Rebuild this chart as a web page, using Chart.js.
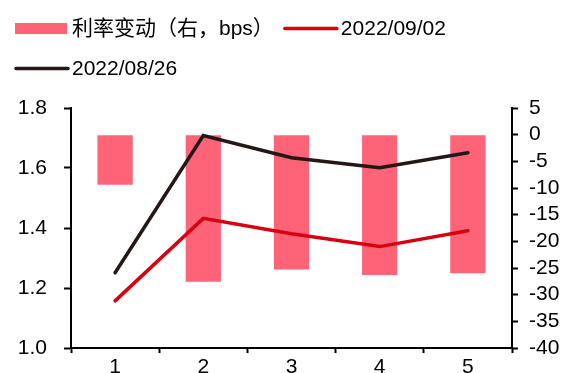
<!DOCTYPE html>
<html>
<head>
<meta charset="utf-8">
<script src="https://cdn.jsdelivr.net/npm/chart.js@4/dist/chart.umd.min.js"></script>
<style>
  html, body { margin: 0; padding: 0; background: #fff; }
  #wrap { width: 572px; height: 373px; }
</style>
</head>
<body>
<div id="wrap"><canvas id="c" width="572" height="373"></canvas></div>
<script>
// Terms 1..5
const categories = ['1', '2', '3', '4', '5'];
// Change in yield between the two dates, bps (right axis)
const rateChange = [-9.4, -27.6, -25.3, -26.3, -26.0];
// Yields on 2022/09/02 (left axis)
const yield0902 = [1.157, 1.432, 1.381, 1.338, 1.391];
// Yields on 2022/08/26 (left axis)
const yield0826 = [1.251, 1.708, 1.634, 1.601, 1.651];

const leftTicks = [1.0, 1.2, 1.4, 1.6, 1.8];
const rightTicks = [-40, -35, -30, -25, -20, -15, -10, -5, 0, 5];

const FONT_FAMILY = '"Liberation Sans", Arial, "Noto Sans CJK SC", sans-serif';
const TICK_SIZE = 21;
const BAR_COLOR = '#FF6378';
const RED = '#D7000F';
const BLACK = '#231815';

// Legend drawn on the canvas: two rows, swatch + label
const legendPlugin = {
  id: 'rowLegend',
  afterDraw(chart) {
    const ctx = chart.ctx;
    const ds = chart.data.datasets;
    const rows = [
      { y: 28.5, items: [0, 1] },
      { y: 68.5, items: [2] }
    ];
    ctx.save();
    ctx.font = '21px ' + FONT_FAMILY;
    ctx.textBaseline = 'middle';
    ctx.textAlign = 'left';
    rows.forEach(row => {
      let x = 15;
      row.items.forEach(i => {
        const d = ds[i];
        if (d.type === 'bar') {
          ctx.fillStyle = d.backgroundColor;
          ctx.fillRect(x, row.y - 5.5, 52, 11);
        } else {
          ctx.strokeStyle = d.borderColor;
          ctx.lineWidth = 3.5;
          ctx.lineCap = 'round';
          ctx.beginPath();
          ctx.moveTo(x + 1, row.y);
          ctx.lineTo(x + 53, row.y);
          ctx.stroke();
        }
        ctx.fillStyle = '#000';
        ctx.fillText(d.label, x + 57, row.y + 1);
        x += 57 + ctx.measureText(d.label).width + 10;
      });
    });
    ctx.restore();
  }
};

// y-axis label overhang must not push the plot area inward
function fixVertical(width) {
  return scale => {
    scale.width = width;
    scale.paddingTop = 0;
    scale.paddingBottom = 0;
  };
}

new Chart(document.getElementById('c'), {
  data: {
    labels: categories,
    datasets: [
      {
        type: 'bar',
        label: '利率变动（右，bps）',
        data: rateChange,
        yAxisID: 'y1',
        backgroundColor: BAR_COLOR,
        borderWidth: 0,
        barPercentage: 0.4,
        categoryPercentage: 1.0,
        order: 2
      },
      {
        type: 'line',
        label: '2022/09/02',
        data: yield0902,
        yAxisID: 'y',
        borderColor: RED,
        backgroundColor: RED,
        borderWidth: 3.5,
        borderCapStyle: 'round',
        pointRadius: 0,
        tension: 0,
        order: 1
      },
      {
        type: 'line',
        label: '2022/08/26',
        data: yield0826,
        yAxisID: 'y',
        borderColor: BLACK,
        backgroundColor: BLACK,
        borderWidth: 3.5,
        borderCapStyle: 'round',
        pointRadius: 0,
        tension: 0,
        order: 0
      }
    ]
  },
  options: {
    responsive: false,
    animation: false,
    devicePixelRatio: 1,
    layout: { padding: { top: 108, left: 0, right: 0, bottom: 0 } },
    plugins: {
      legend: { display: false },
      tooltip: { enabled: false }
    },
    scales: {
      x: {
        type: 'category',
        offset: true,
        border: { color: '#000', width: 2 },
        grid: {
          display: true,
          drawOnChartArea: false,
          drawTicks: true,
          tickLength: 5,
          tickWidth: 2,
          tickColor: '#000',
          offset: true
        },
        ticks: {
          color: '#000',
          font: { size: TICK_SIZE, family: FONT_FAMILY },
          padding: 2,
          maxRotation: 0,
          autoSkip: false
        },
        afterFit(scale) { scale.height = 25; scale.paddingLeft = 0; scale.paddingRight = 0; }
      },
      y: {
        type: 'linear',
        position: 'left',
        min: 1.0,
        max: 1.8,
        afterBuildTicks(scale) { scale.ticks = leftTicks.map(v => ({ value: v })); },
        border: { color: '#000', width: 2 },
        grid: {
          display: true,
          drawOnChartArea: false,
          drawTicks: true,
          tickLength: 7,
          tickWidth: 2,
          tickColor: '#000'
        },
        ticks: {
          color: '#000',
          font: { size: TICK_SIZE, family: FONT_FAMILY },
          padding: 17,
          autoSkip: false,
          callback: v => Number(v).toFixed(1)
        },
        afterFit: fixVertical(71)
      },
      y1: {
        type: 'linear',
        position: 'right',
        min: -40,
        max: 5,
        afterBuildTicks(scale) { scale.ticks = rightTicks.map(v => ({ value: v })); },
        border: { color: '#000', width: 2 },
        grid: {
          display: true,
          drawOnChartArea: false,
          drawTicks: true,
          tickLength: 6,
          tickWidth: 2,
          tickColor: '#000'
        },
        ticks: {
          color: '#000',
          font: { size: TICK_SIZE, family: FONT_FAMILY },
          padding: 11,
          autoSkip: false,
          callback: v => String(v)
        },
        afterFit: fixVertical(60)
      }
    }
  },
  plugins: [legendPlugin]
});
</script>
</body>
</html>
